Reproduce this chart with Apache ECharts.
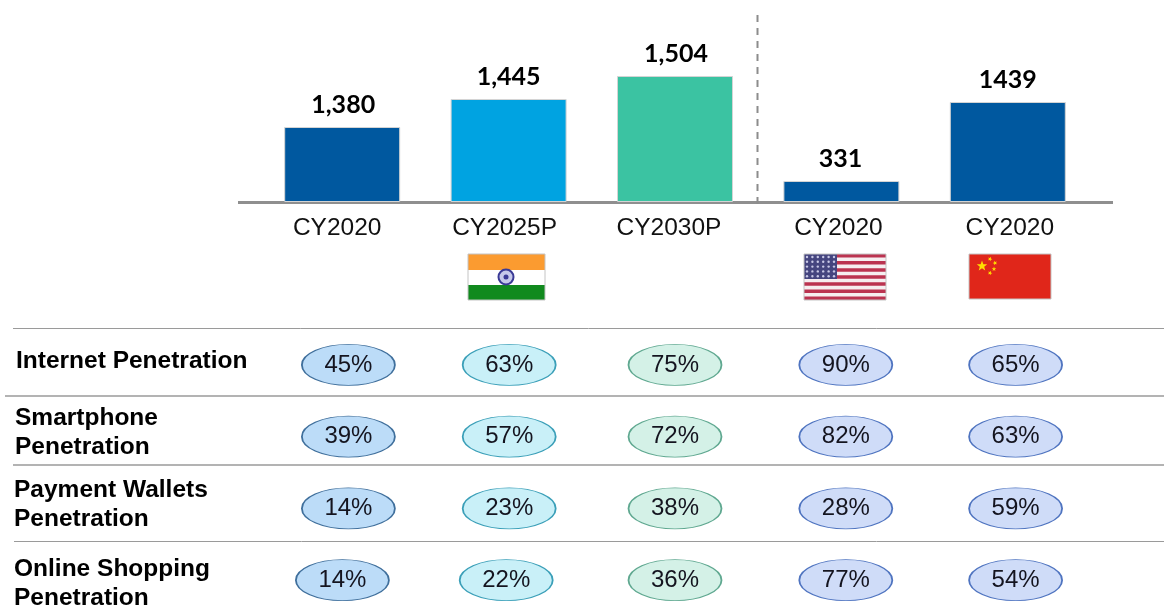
<!DOCTYPE html>
<html>
<head>
<meta charset="utf-8">
<script src="https://cdn.jsdelivr.net/npm/echarts@6/dist/echarts.min.js"></script>
<style>
html, body { margin: 0; padding: 0; background: #fff; }
#chart { width: 1164px; height: 606px; }
</style>
</head>
<body>
<div id="chart"></div>
<script>
// 柱子标签和类目
const years = ['CY2020', 'CY2025P', 'CY2030P', 'CY2020', 'CY2020'];
const populationLabels = ['1,380', '1,445', '1,504', '331', '1439'];
// 原图的柱高不是按数值比例画的，这里是从图上读到的柱高
const drawnHeights = [75, 103, 126, 21, 100];

// 表格数据
const rowNames = ['Internet Penetration', 'Smartphone\nPenetration', 'Payment Wallets\nPenetration', 'Online Shopping\nPenetration'];
const internet = [45, 63, 75, 90, 65];
const smartphone = [39, 57, 72, 82, 63];
const wallets = [14, 23, 38, 28, 59];
const shopping = [14, 22, 36, 77, 54];

const chart = echarts.init(document.getElementById('chart'));

const barColors = ['#00589f', '#00a3e1', '#3bc3a2', '#00589f', '#00589f'];
const barLabelShift = [1, 0, 1, -1, 0];
const yearLabelPad = [10, 8, 12, 6, -4];
const pillFill = ['#bcdcf8', '#c9f0f8', '#d4f1e7', '#cfdcf8', '#cfdcf8'];
const pillLine = ['#3f6f9c', '#3a9fb8', '#5fa890', '#4f74c0', '#4f74c0'];
const pillShift = [-9, -15, -16, -12, -9];
const rows = [internet, smartphone, wallets, shopping];

// 椭圆数据点
const pillData = [];
rows.forEach((row, r) => {
    row.forEach((v, c) => {
        let dx = pillShift[c];
        if (r === 3 && c === 0) dx -= 6;
        if (r === 3 && c === 1) dx -= 3;
        pillData.push({
            value: [c, r, v],
            symbolOffset: [dx, 0],
            itemStyle: { color: pillFill[c], borderColor: pillLine[c] }
        });
    });
});

// 分隔线、国旗等装饰
function hLine(x1, x2, y, color, width) {
    return { type: 'line', silent: true, shape: { x1, y1: y, x2, y2: y }, style: { stroke: color, lineWidth: width } };
}
function rect(x, y, width, height, fill) {
    return { type: 'rect', silent: true, shape: { x, y, width, height }, style: { fill } };
}
function frame(x, y, width, height) {
    return { type: 'rect', silent: true, shape: { x, y, width, height }, style: { fill: 'none', stroke: '#c4c4c4', lineWidth: 1 } };
}
function star(cx, cy, radius, rotate) {
    const points = [];
    for (let i = 0; i < 10; i++) {
        const r = i % 2 ? radius * 0.42 : radius;
        const a = rotate + i * Math.PI / 5 - Math.PI / 2;
        points.push([cx + r * Math.cos(a), cy + r * Math.sin(a)]);
    }
    return { type: 'polygon', silent: true, shape: { points }, style: { fill: '#ffdd00' } };
}
function indiaFlag() {
    return [
        rect(468, 254, 77, 46, '#ffffff'),
        rect(468, 254, 77, 16, '#fb9b30'),
        rect(468, 285, 77, 15, '#118a1e'),
        { type: 'circle', silent: true, shape: { cx: 506, cy: 277, r: 7.5 }, style: { fill: '#c5c8ea', stroke: '#3a3a96', lineWidth: 2 } },
        { type: 'circle', silent: true, shape: { cx: 506, cy: 277, r: 2.5 }, style: { fill: '#3a3a96' } },
        frame(468, 254, 77, 46)
    ];
}
function usaFlag() {
    const parts = [rect(804, 254, 82, 46, '#f6eef0')];
    for (let i = 0; i < 7; i++) {
        parts.push(rect(804, 254 + i * 7.08, 82, 3.54, '#bb3350'));
    }
    parts.push(rect(804, 254, 33, 25, '#45457f'));
    for (let i = 0; i < 5; i++) {
        for (let j = 0; j < 6; j++) {
            parts.push({ type: 'circle', silent: true, shape: { cx: 807 + j * 5.4, cy: 257 + i * 4.8, r: 1.2 }, style: { fill: '#c8c8e6' } });
        }
    }
    parts.push(frame(804, 254, 82, 46));
    return parts;
}
function chinaFlag() {
    return [
        rect(969, 254, 82, 45, '#e0261a'),
        star(982, 266, 5.5, 0),
        star(990, 259, 2.4, 0.4),
        star(995, 263, 2.4, 0.9),
        star(994, 269, 2.4, 0),
        star(990, 273, 2.4, 0.4),
        frame(969, 254, 82, 45)
    ];
}

const graphics = [
    hLine(238, 1113, 202.5, '#8f8f8f', 3),
    {
        type: 'line', silent: true,
        shape: { x1: 757.5, y1: 15, x2: 757.5, y2: 205 },
        style: { stroke: '#8c8c8c', lineWidth: 2, lineDash: [7, 6] }
    },
    hLine(13, 1164, 328.5, '#9a9a9a', 1),
    hLine(5, 1164, 396, '#9a9a9a', 1.5),
    hLine(13, 1164, 465, '#9a9a9a', 1.5),
    hLine(14, 1164, 541.5, '#9a9a9a', 1)
];
const rowLabelPos = [[16, 361.5], [15, 432.5], [14, 504.5], [14, 583.5]];
rowNames.forEach((name, i) => {
    graphics.push({
        type: 'text', silent: true,
        x: rowLabelPos[i][0], y: rowLabelPos[i][1],
        style: {
            text: name, fill: '#000',
            font: 'bold 24.5px "Liberation Sans"',
            lineHeight: 29.5,
            align: 'left', verticalAlign: 'middle'
        }
    });
});
graphics.push(...indiaFlag(), ...usaFlag(), ...chinaFlag());

const yearRich = {};
yearLabelPad.forEach((p, i) => {
    yearRich['y' + i] = {
        fontFamily: 'Liberation Sans', fontSize: 24.5, color: '#111',
        padding: p >= 0 ? [0, p, 0, 0] : [0, 0, 0, -p]
    };
});

const option = {
    animation: false,
    backgroundColor: '#fff',
    graphic: { elements: graphics },
    grid: [
        { left: 259, top: 2, width: 832, height: 200 },
        // 最后一行的格子超出画布，关闭外框收缩
        { left: 274, top: 329, width: 834, height: 287, outerBoundsMode: 'none' }
    ],
    xAxis: [
        {
            type: 'category', gridIndex: 0, data: years,
            axisLine: { show: false }, axisTick: { show: false },
            axisLabel: {
                margin: 14,
                formatter: (v, i) => '{y' + i + '|' + v + '}',
                rich: yearRich
            }
        },
        {
            type: 'category', gridIndex: 1, data: years,
            axisLine: { show: false }, axisTick: { show: false }, axisLabel: { show: false }
        }
    ],
    yAxis: [
        { type: 'value', gridIndex: 0, min: 0, max: 200, show: false },
        { type: 'category', gridIndex: 1, inverse: true, data: rowNames, show: false }
    ],
    series: [
        {
            type: 'bar',
            xAxisIndex: 0, yAxisIndex: 0,
            barWidth: 116,
            data: drawnHeights.map((h, i) => ({
                value: h,
                itemStyle: { color: barColors[i] },
                label: { offset: [barLabelShift[i], 0] }
            })),
            itemStyle: { borderColor: '#d4d4d4', borderWidth: 1 },
            label: {
                show: true, position: 'top', distance: 10,
                fontFamily: 'Lato', fontWeight: 'bold', fontSize: 25, color: '#000',
                formatter: p => populationLabels[p.dataIndex]
            }
        },
        {
            type: 'scatter',
            xAxisIndex: 1, yAxisIndex: 1,
            symbol: 'circle',
            symbolSize: [93, 41],
            clip: false,
            data: pillData,
            itemStyle: { borderWidth: 1.2, opacity: 1 },
            label: {
                show: true, position: 'inside',
                fontFamily: 'Liberation Sans', fontSize: 24, color: '#14141f',
                formatter: p => p.value[2] + '%'
            }
        }
    ]
};

chart.setOption(option);
</script>
</body>
</html>
